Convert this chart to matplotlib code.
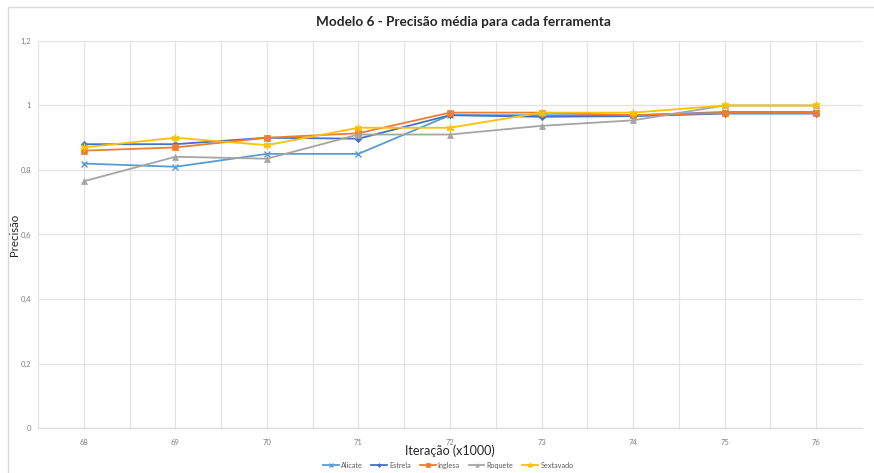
import matplotlib
matplotlib.use("Agg")
import matplotlib.pyplot as plt
from matplotlib.patches import Rectangle
from matplotlib.ticker import FuncFormatter, MultipleLocator

iteracoes = [68, 69, 70, 71, 72, 73, 74, 75, 76]
alicate = [0.82, 0.81, 0.85, 0.85, 0.97, 0.97, 0.97, 0.98, 0.98]
estrela = [0.88, 0.88, 0.90, 0.897, 0.97, 0.965, 0.967, 0.975, 0.975]
inglesa = [0.86, 0.87, 0.90, 0.914, 0.978, 0.978, 0.97, 0.977, 0.977]
roquete = [0.765, 0.841, 0.835, 0.91, 0.91, 0.937, 0.954, 1.0, 1.0]
sextavado = [0.87, 0.90, 0.877, 0.931, 0.931, 0.978, 0.978, 1.0, 1.0]

series = [
    ("Alicate", alicate, "#5B9BD5", "x", 4.5),
    ("Estrela", estrela, "#4472C4", "D", 3.2),
    ("Inglesa", inglesa, "#ED7D31", "s", 4.2),
    ("Roquete", roquete, "#A5A5A5", "^", 4.2),
    ("Sextavado", sextavado, "#FFC000", (6, 2, 0), 5.5),
]

plt.rcParams["font.family"] = ["Lato", "DejaVu Sans"]

W, H = 874, 473
fig = plt.figure(figsize=(W / 100, H / 100), dpi=100)
fig.patch.set_facecolor("white")

# chart frame
fig.add_artist(Rectangle((8 / W, -0.1), 1.2, 1 - 7 / H + 0.1, transform=fig.transFigure,
                         fill=False, edgecolor="#D9D9D9", linewidth=1.0))

left, right, top, bottom = 38, 862, 41, 428
ax = fig.add_axes([left / W, 1 - bottom / H, (right - left) / W, (bottom - top) / H])

for name, vals, color, marker, ms in series:
    ax.plot(iteracoes, vals, color=color, linewidth=1.3, marker=marker,
            markersize=ms, markeredgewidth=1.0 if marker in ("x", (6, 2, 0)) else 0.5,
            markeredgecolor=color, markerfacecolor=color, label=name, zorder=3)

ax.set_xlim(67.5, 76.5)
ax.set_ylim(0, 1.2)
ax.set_xticks(iteracoes)
ax.xaxis.set_minor_locator(MultipleLocator(0.5))
ax.yaxis.set_major_locator(MultipleLocator(0.2))
ax.yaxis.set_major_formatter(FuncFormatter(
    lambda v, p: "0" if abs(v) < 1e-9 else ("1" if abs(v - 1) < 1e-9 else f"{v:.1f}".replace(".", ","))))

ax.grid(True, which="both", axis="x", color="#E3E3E3", linewidth=0.9, zorder=0)
ax.grid(True, which="major", axis="y", color="#E3E3E3", linewidth=0.9, zorder=0)
for s in ax.spines.values():
    s.set_visible(False)
ax.spines["bottom"].set_visible(True)
ax.spines["bottom"].set_color("#D9D9D9")
ax.tick_params(which="both", length=0)
ax.tick_params(axis="both", labelsize=5.5, labelcolor="#7F7F7F")
ax.tick_params(axis="x", pad=8)
ax.tick_params(axis="y", pad=5)

fig.text(450 / W, 1 - 451 / H, "Iteração (x1000)", ha="center", va="center",
         fontsize=9, color="#262626")
fig.text(14.5 / W, 1 - 235 / H, "Precisão", ha="center", va="center", rotation=90,
         fontsize=8.2, color="#262626")

fig.text(463 / W, 1 - 22 / H, "Modelo 6 - Precisão média para cada ferramenta",
         ha="center", va="center", fontsize=9.8, fontweight="bold", color="#262626")

fig.legend(loc="center", bbox_to_anchor=(448 / W, 1 - 465 / H), ncol=5, frameon=False,
           fontsize=5.2, labelcolor="#595959", handlelength=2.2, columnspacing=1.2,
           handletextpad=0.3, markerscale=0.6)

fig.savefig("out.png", dpi=100, facecolor="white")
